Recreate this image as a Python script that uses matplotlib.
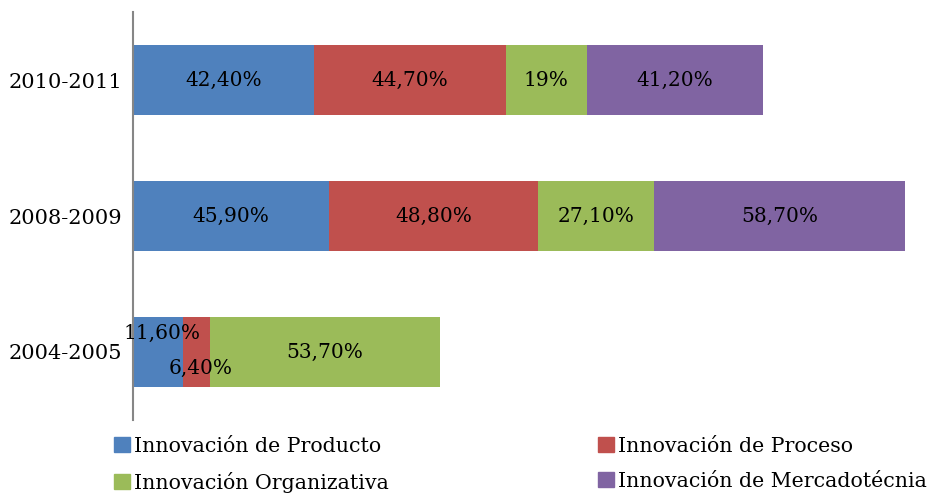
import matplotlib.pyplot as plt
from matplotlib.patches import Patch

periods = ['2004-2005', '2008-2009', '2010-2011']
producto = [11.6, 45.9, 42.4]
proceso = [6.4, 48.8, 44.7]
organizativa = [53.7, 27.1, 19.0]
mercadotecnia = [0.0, 58.7, 41.2]

lab_producto = ['11,60%', '45,90%', '42,40%']
lab_proceso = ['6,40%', '48,80%', '44,70%']
lab_organizativa = ['53,70%', '27,10%', '19%']
lab_mercadotecnia = ['', '58,70%', '41,20%']

names = ['Innovación de Producto', 'Innovación de Proceso',
         'Innovación Organizativa', 'Innovación de Mercadotécnia']
colors = ['#4F81BD', '#C0504D', '#9BBB59', '#8064A2']

plt.rcParams['font.family'] = ['DejaVu Serif']

fig = plt.figure(figsize=(9.33, 4.94), dpi=100)
ax = fig.add_axes([0.1426, 0.1498, 0.853, 0.8259])

series = [producto, proceso, organizativa, mercadotecnia]
labels = [lab_producto, lab_proceso, lab_organizativa, lab_mercadotecnia]
y = list(range(len(periods)))
left = [0.0] * len(periods)
for vals, labs, c in zip(series, labels, colors):
    ax.barh(y, vals, left=left, height=0.51, color=c)
    for i, (v, l) in enumerate(zip(vals, labs)):
        if not l:
            continue
        cx = left[i] + v / 2
        cy = y[i]
        # small segments of the first bar: labels pushed up / down
        if periods[i] == '2004-2005' and l == '11,60%':
            cy = y[i] + 0.14
            cx = left[i] + v / 2 + 1.0
        elif periods[i] == '2004-2005' and l == '6,40%':
            cy = y[i] - 0.12
            cx = left[i] + v / 2 + 1.0
        ax.text(cx, cy, l, ha='center', va='center', fontsize=14.5)
    left = [a + b for a, b in zip(left, vals)]

ax.set_xlim(0, 186)
ax.set_ylim(-0.5, 2.5)
ax.set_yticks(y)
ax.set_yticklabels(periods, fontsize=15)
ax.tick_params(axis='y', length=0, pad=8)
ax.set_xticks([])
for s in ['top', 'right', 'bottom']:
    ax.spines[s].set_visible(False)
ax.spines['left'].set_color('#868686')
ax.spines['left'].set_linewidth(1.5)

handles = [Patch(color=c) for c in colors]
order = [0, 2, 1, 3]
fig.legend([handles[k] for k in order], [names[k] for k in order],
           ncol=2, loc='lower left', bbox_to_anchor=(0.107, -0.027),
           frameon=False, fontsize=14.8, handlelength=0.75, handleheight=0.75,
           handletextpad=0.2, columnspacing=10.2, labelspacing=0.8,
           borderpad=0.2)

fig.savefig('out.png', dpi=100)
